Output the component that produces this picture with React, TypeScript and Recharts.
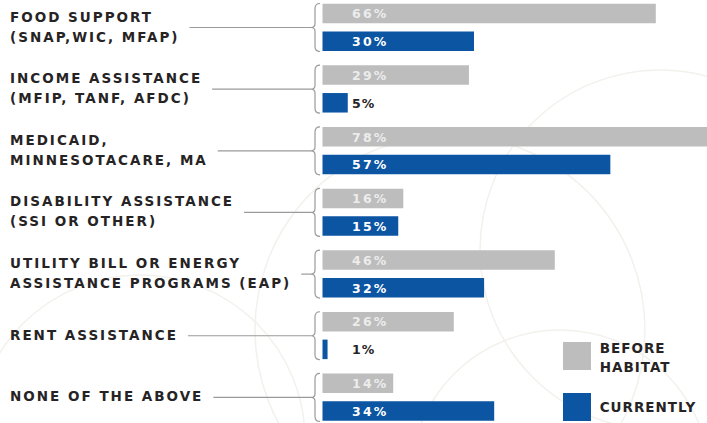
import React from "react"
import { Bar, BarChart, LabelList, Legend, XAxis, YAxis } from "recharts"

const categories = [
  "FOOD SUPPORT\n(SNAP,WIC, MFAP)",
  "INCOME ASSISTANCE\n(MFIP, TANF, AFDC)",
  "MEDICAID,\nMINNESOTACARE, MA",
  "DISABILITY ASSISTANCE\n(SSI OR OTHER)",
  "UTILITY BILL OR ENERGY\nASSISTANCE PROGRAMS (EAP)",
  "RENT ASSISTANCE",
  "NONE OF THE ABOVE",
]
const beforeHabitat = [66, 29, 78, 16, 46, 26, 14]
const currently = [30, 5, 57, 15, 32, 1, 34]
const seriesNames = ["BEFORE HABITAT", "CURRENTLY"]

const data = categories.map((name, i) => ({
  name,
  before: beforeHabitat[i],
  current: currently[i],
}))

const GRAY = "#bdbdbd"
const BLUE = "#0b55a3"
const DARK = "#262324"
const FONT = "'DejaVu Sans', sans-serif"

let ctx: CanvasRenderingContext2D | null = null
function textWidth(s: string, spacing: number) {
  if (!ctx) ctx = document.createElement("canvas").getContext("2d")
  if (!ctx) return s.length * 9
  ctx.font = "bold 13.5px 'DejaVu Sans'"
  return ctx.measureText(s).width + spacing * s.length
}

function CategoryTick(props: any) {
  const { y, payload } = props
  const lines = String(payload.value).split("\n")
  const widest = Math.max(...lines.map((l) => textWidth(l, 2)))
  const lineStart = 10 + widest + 10
  const bx = 315
  const top = y - 24
  const bot = y + 24
  return (
    <g>
      {lines.map((l, i) => (
        <text
          key={i}
          x={10}
          y={lines.length === 1 ? y + 4 : y - 6 + i * 20}
          fill={DARK}
          fontFamily={FONT}
          fontWeight="bold"
          fontSize={13.5}
          letterSpacing={2}
        >
          {l}
        </text>
      ))}
      <line x1={lineStart} y1={y} x2={bx - 4} y2={y} stroke="#9a9a9a" strokeWidth={1.2} />
      <path
        d={`M ${bx + 5} ${top} Q ${bx} ${top} ${bx} ${top + 5} L ${bx} ${y - 4} Q ${bx} ${y} ${bx - 4} ${y} Q ${bx} ${y} ${bx} ${y + 4} L ${bx} ${bot - 5} Q ${bx} ${bot} ${bx + 5} ${bot}`}
        fill="none"
        stroke="#9a9a9a"
        strokeWidth={1.2}
      />
    </g>
  )
}

function makeLabel(insideColor: string) {
  return (props: any) => {
    const { x, y, height, value } = props
    const inside = value >= 10
    return (
      <text
        x={x + 29.5}
        y={y + height / 2 + 4.8}
        fill={inside ? insideColor : DARK}
        fontFamily={FONT}
        fontWeight="bold"
        fontSize={12.5}
        letterSpacing={inside ? 2.2 : 1}
      >
        {value}%
      </text>
    )
  }
}

function LegendBox() {
  const items = [
    { color: GRAY, lines: seriesNames[0].split(" "), top: 0 },
    { color: BLUE, lines: [seriesNames[1]], top: 51.3 },
  ]
  return (
    <div style={{ position: "relative", width: 150, height: 0 }}>
      {items.map((it, i) => (
        <div key={i}>
          <div
            style={{
              position: "absolute",
              left: 0,
              top: it.top,
              width: 28,
              height: 28,
              background: it.color,
            }}
          />
          {it.lines.map((l, j) => (
            <div
              key={j}
              style={{
                position: "absolute",
                left: 37,
                top: it.top + (it.lines.length === 1 ? 6 : -2 + j * 19.5),
                fontFamily: FONT,
                fontWeight: "bold",
                fontSize: 13.5,
                letterSpacing: 1,
                color: DARK,
                lineHeight: "16px",
                whiteSpace: "nowrap",
              }}
            >
              {l}
            </div>
          ))}
        </div>
      ))}
    </div>
  )
}

export default function App() {
  return (
    <div
      style={{
        position: "fixed",
        left: 0,
        top: 0,
        width: 707,
        height: 423,
        overflow: "hidden",
        background: "#fff",
      }}
    >
      <svg width={707} height={423} style={{ position: "absolute", left: 0, top: 0 }}>
        <g fill="none" stroke="#f3f1ec" strokeWidth={1.5}>
          <circle cx={450} cy={330} r={195} />
          <circle cx={660} cy={250} r={180} />
          <circle cx={140} cy={440} r={165} />
          <circle cx={560} cy={480} r={150} />
        </g>
      </svg>
      <div style={{ position: "absolute", left: 0, top: -10 }}>
        <BarChart
          width={740}
          height={450}
          data={data}
          layout="vertical"
          margin={{ top: 6.7, right: 13.5, bottom: 11.8, left: 0 }}
          barSize={19.5}
          barGap={8.2}
        >
          <XAxis type="number" domain={[0, 80]} hide />
          <YAxis
            type="category"
            dataKey="name"
            width={322.5}
            axisLine={false}
            tickLine={false}
            interval={0}
            tick={<CategoryTick />}
          />
          <Legend
            content={<LegendBox />}
            wrapperStyle={{ position: "absolute", left: 562.7, top: 351.7, width: 150, height: 0 }}
          />
          <Bar dataKey="before" name={seriesNames[0]} fill={GRAY} isAnimationActive={false}>
            <LabelList dataKey="before" content={makeLabel("#ececec")} />
          </Bar>
          <Bar dataKey="current" name={seriesNames[1]} fill={BLUE} isAnimationActive={false}>
            <LabelList dataKey="current" content={makeLabel("#ffffff")} />
          </Bar>
        </BarChart>
      </div>
    </div>
  )
}
